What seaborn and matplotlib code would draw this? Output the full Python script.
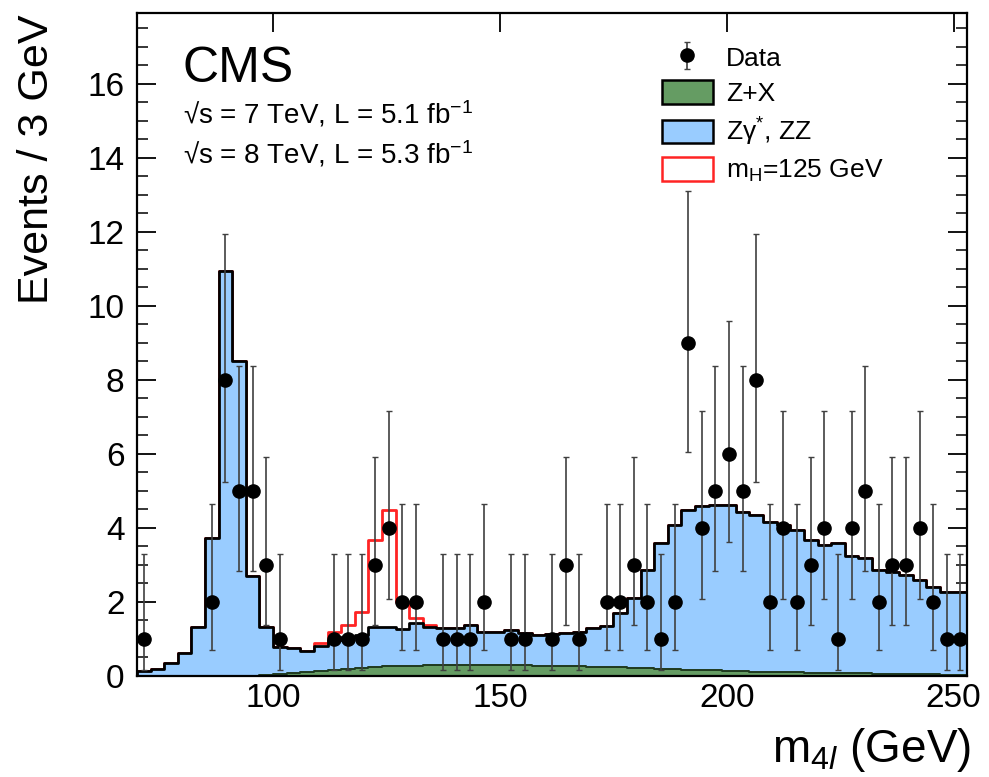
import numpy as np
import pandas as pd
import matplotlib
matplotlib.use("Agg")
import matplotlib.pyplot as plt
import seaborn as sns
from matplotlib.patches import Patch
from matplotlib.ticker import MultipleLocator, FixedLocator

# ---------------------------------------------------------------------------
# Four-lepton invariant mass, 3 GeV bins from 70 to 253 GeV
# ---------------------------------------------------------------------------
bin_low, bin_high, bin_width = 70, 253, 3
bin_edges = np.arange(bin_low, bin_high + 0.5 * bin_width, bin_width)
mass_centers = 0.5 * (bin_edges[:-1] + bin_edges[1:])
n_bins = len(mass_centers)

# Observed events per bin
data_counts = [1, 0, 0, 0, 0, 2, 8, 5, 5, 3,
               1, 0, 0, 0, 1, 1, 1, 3, 4, 2,
               2, 0, 1, 1, 1, 2, 0, 1, 1, 0,
               1, 3, 1, 0, 2, 2, 3, 2, 1, 2,
               9, 4, 5, 6, 5, 8, 2, 4, 2, 3,
               4, 1, 4, 5, 2, 3, 3, 4, 2, 1,
               1]

# Reducible background (Z+X)
zx_bkg = [0.00, 0.00, 0.00, 0.00, 0.00, 0.00, 0.00, 0.00, 0.00, 0.02,
          0.05, 0.08, 0.11, 0.14, 0.17, 0.20, 0.22, 0.24, 0.26, 0.27,
          0.28, 0.29, 0.30, 0.30, 0.30, 0.30, 0.30, 0.29, 0.29, 0.28,
          0.27, 0.27, 0.26, 0.25, 0.24, 0.23, 0.22, 0.21, 0.20, 0.18,
          0.17, 0.16, 0.15, 0.14, 0.13, 0.12, 0.11, 0.10, 0.10, 0.09,
          0.08, 0.08, 0.07, 0.07, 0.06, 0.06, 0.05, 0.05, 0.05, 0.04,
          0.04]

# Irreducible background (Z gamma*, ZZ)
zz_bkg = [0.14, 0.20, 0.36, 0.62, 1.32, 3.73, 10.93, 8.50, 2.70, 1.30,
          0.74, 0.67, 0.56, 0.68, 0.81, 0.86, 0.90, 1.08, 1.05, 1.01,
          1.14, 1.02, 0.99, 0.99, 1.08, 0.90, 0.90, 0.95, 0.87, 0.83,
          0.86, 0.89, 0.92, 1.04, 1.11, 1.47, 1.88, 2.65, 3.39, 3.90,
          4.32, 4.42, 4.47, 4.48, 4.31, 4.23, 4.06, 3.98, 3.85, 3.59,
          3.46, 3.51, 3.16, 3.12, 2.80, 2.76, 2.67, 2.54, 2.36, 2.24,
          2.24]

# Expected signal for m_H = 125 GeV
higgs_125 = [0, 0, 0, 0, 0, 0, 0, 0, 0, 0,
             0, 0, 0, 0.07, 0.20, 0.32, 0.62, 2.35, 3.16, 0.71,
             0.15, 0.07, 0, 0, 0, 0, 0, 0, 0, 0,
             0, 0, 0, 0, 0, 0, 0, 0, 0, 0,
             0, 0, 0, 0, 0, 0, 0, 0, 0, 0,
             0, 0, 0, 0, 0, 0, 0, 0, 0, 0,
             0]

legend_labels = ["Data", "Z+X", "Zγ$^{*}$, ZZ", r"m$_{\mathrm{H}}$=125 GeV"]

# ---------------------------------------------------------------------------
# Poisson (Garwood) 68% intervals for the observed counts
# ---------------------------------------------------------------------------
def poisson_cdf(k, mu):
    i = np.arange(k + 1)
    log_fact = np.cumsum(np.log(np.maximum(i, 1)))
    return np.exp(-mu + i * np.log(mu) - log_fact).sum()


def solve_mu(k, target):
    lo, hi = 1e-9, 60.0
    for _ in range(100):
        mid = 0.5 * (lo + hi)
        if poisson_cdf(k, mid) > target:
            lo = mid
        else:
            hi = mid
    return 0.5 * (lo + hi)


alpha = 1 - 0.682689
err_lo, err_hi = [], []
for n in data_counts:
    mu_low = 0.0 if n == 0 else solve_mu(n - 1, 1 - alpha / 2)
    mu_up = solve_mu(n, alpha / 2)
    err_lo.append(n - mu_low)
    err_hi.append(mu_up - n)

df = pd.DataFrame({
    "m4l": mass_centers,
    "data": data_counts,
    "zx": zx_bkg,
    "zz": zz_bkg,
    "sig": higgs_125,
    "err_lo": err_lo,
    "err_hi": err_hi,
})
df["bkg"] = df["zx"] + df["zz"]
df["bkg_sig"] = df["bkg"] + df["sig"]

# ---------------------------------------------------------------------------
# Styling
# ---------------------------------------------------------------------------
sns.set_style("ticks")
plt.rcParams["font.family"] = ["Liberation Sans", "DejaVu Sans"]
plt.rcParams["mathtext.fontset"] = "custom"
plt.rcParams["mathtext.rm"] = "Liberation Sans"
plt.rcParams["mathtext.it"] = "Liberation Sans:italic"
plt.rcParams["mathtext.bf"] = "Liberation Sans:bold"
for key in ["text.color", "axes.labelcolor", "xtick.color", "ytick.color",
            "axes.edgecolor"]:
    plt.rcParams[key] = "black"

blue = "#99ccff"
green = "#659c63"
red = "#ff2424"

fig = plt.figure(figsize=(9.89, 7.77), dpi=100)
ax = fig.add_axes([0.1385, 0.130, 0.8395, 0.853])

hist_kws = dict(x="m4l", bins=n_bins, binrange=(bin_low, bin_high),
                element="step", ax=ax)

# Signal on top of the total background (outline only)
sns.histplot(df, weights="bkg_sig", fill=False, color=red, linewidth=2.0,
             zorder=1, **hist_kws)
# Total background (ZZ stacked on Z+X)
sns.histplot(df, weights="bkg", fill=True, color=blue, alpha=1,
             edgecolor="black", linewidth=2.0, zorder=2, **hist_kws)
# Z+X
sns.histplot(df, weights="zx", fill=True, color=green, alpha=1,
             edgecolor="#1f3a1f", linewidth=1.4, zorder=3, **hist_kws)

# Observed data
obs = df[df["data"] > 0]
data_handle = ax.errorbar(obs["m4l"], obs["data"],
                          yerr=[obs["err_lo"], obs["err_hi"]],
                          fmt="o", color="black", markersize=9.5,
                          ecolor="#404040", elinewidth=1.2, capsize=2.5,
                          capthick=1.0, zorder=6)

ax.set_xlim(bin_low, bin_high)
ax.set_ylim(0, 17.9)
ax.set_xlabel("")
ax.set_ylabel("")

ax.xaxis.set_major_locator(FixedLocator([100, 150, 200, 250]))
ax.yaxis.set_major_locator(MultipleLocator(2))
ax.yaxis.set_minor_locator(MultipleLocator(0.5))
ax.tick_params(axis="both", which="both", direction="in", top=True, right=True)
ax.tick_params(axis="both", which="major", length=14, width=1.3, labelsize=24)
ax.tick_params(axis="y", which="minor", length=8, width=1.1)
ax.tick_params(axis="x", which="major", pad=5)
ax.tick_params(axis="y", which="major", pad=9)
for spine in ax.spines.values():
    spine.set_linewidth(1.6)
    spine.set_visible(True)
    spine.set_zorder(10)

# Axis titles
fig.text(0.982, 1 - 762 / 777, r"m$_{4\mathit{l}}$ (GeV)", fontsize=33,
         ha="right", va="baseline")
fig.text(37 / 989, 1 - 14 / 777, "Events / 3 GeV", fontsize=31,
         rotation=90, ha="center", va="top")

# Experiment and luminosity labels
ax.text(0.055, 0.896, "CMS", transform=ax.transAxes, fontsize=36,
        ha="left", va="baseline")
ax.text(0.055, 0.833, "√s = 7 TeV, L = 5.1 fb$^{-1}$",
        transform=ax.transAxes, fontsize=20, ha="left", va="baseline")
ax.text(0.055, 0.773, "√s = 8 TeV, L = 5.3 fb$^{-1}$",
        transform=ax.transAxes, fontsize=20, ha="left", va="baseline")

handles = [
    data_handle,
    Patch(facecolor=green, edgecolor="black", linewidth=1.8),
    Patch(facecolor=blue, edgecolor="black", linewidth=1.8),
    Patch(facecolor="white", edgecolor=red, linewidth=1.8),
]
ax.legend(handles, legend_labels, loc="upper left",
          bbox_to_anchor=(0.632, 0.952), frameon=False, fontsize=19,
          handlelength=1.95, handleheight=1.0, handletextpad=0.5,
          labelspacing=0.36, borderpad=0, borderaxespad=0)

fig.savefig("out.png", dpi=100)
